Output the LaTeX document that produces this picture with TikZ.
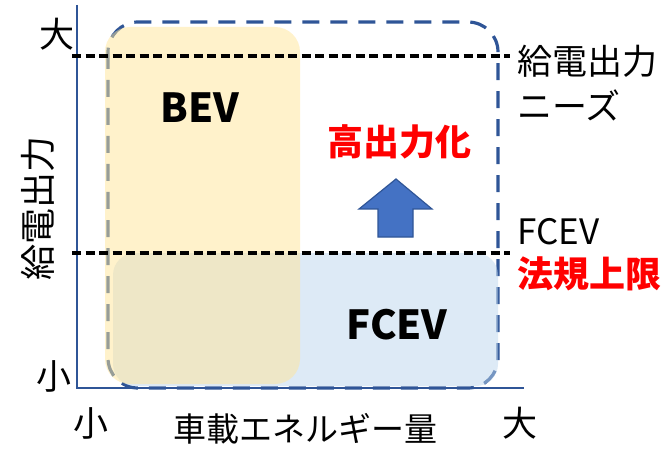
\documentclass[tikz,border=0pt]{standalone}
\usepackage{fontspec}
\setmainfont{Noto Sans CJK JP}
\definecolor{axisblue}{HTML}{2F5597}
\definecolor{boxyellow}{HTML}{FFE699}
\definecolor{boxblue}{HTML}{BDD7EE}
\definecolor{arrowfill}{HTML}{4472C4}
\definecolor{redtxt}{HTML}{FF0000}
\begin{document}
\begin{tikzpicture}[x=1pt,y=-1pt,
  lbl/.style={inner sep=0pt, font=\fontsize{35}{36}\selectfont},
  boldlbl/.style={inner sep=0pt, font=\fontsize{36}{38}\selectfont\bfseries},
  bigbold/.style={inner sep=0pt, font=\fontsize{40}{42}\selectfont\bfseries},
  redlbl/.style={boldlbl, text=redtxt},
  axisline/.style={draw=axisblue, line width=2.8pt},
  regionbox/.style={draw=axisblue, line width=3.2pt, dash pattern=on 17pt off 11pt, rounded corners=30pt},
  levelline/.style={draw=black, line width=3.4pt, dash pattern=on 9pt off 4.5pt},
  upblock/.style={fill=arrowfill, draw=axisblue, line width=1.2pt, line join=miter}]
\useasboundingbox (0,0) rectangle (669,449);
\fill[white] (0,0) rectangle (669,449);

% axes
\coordinate (ytop) at (77,5);
\coordinate (origin) at (77,388);
\coordinate (xend) at (524,388);
\draw[axisline] (ytop) -- (origin) -- (xend);

% dashed region
\draw[regionbox] (108,22) rectangle (498,388);

% FCEV region and BEV region
\fill[boxblue, fill opacity=0.5, rounded corners=22pt] (113,253) rectangle (498,386);
\fill[boxyellow, fill opacity=0.5, rounded corners=25pt] (105,27) rectangle (300,384);

% level lines
\coordinate (l1a) at (72,56);
\coordinate (l1b) at (510,56);
\coordinate (l2a) at (72,253);
\coordinate (l2b) at (510,253);
\draw[levelline] (l1a) -- (l1b);
\draw[levelline] (l2a) -- (l2b);

% up arrow
\draw[upblock] (396,179) -- (432,209) -- (413,209) -- (413,237) -- (378,237) -- (378,209) -- (359,209) -- cycle;

% labels
\node[lbl] (ybig) at (57,34) {大};
\node[lbl] (ysmall) at (54,376) {小};
\node[lbl] (xsmall) at (91,423) {小};
\node[lbl] (xbig) at (520,423) {大};
\node[lbl, font=\fontsize{33}{34}\selectfont] (xlabel) at (305,429) {車載エネルギー量};
\node[lbl, font=\fontsize{36}{37}\selectfont, rotate=90] (ylabel) at (38,208) {給電出力};
\node[bigbold] (bev) at (200,108) {BEV};
\node[bigbold] (fcev) at (397,325) {FCEV};
\node[redlbl] (koshutsu) at (399,142) {高出力化};
\node[lbl, anchor=west] (needs1) at (517,61) {給電出力};
\node[lbl, anchor=west] (needs2) at (517,105) {ニーズ};
\node[lbl, anchor=west] (fcevr) at (517,232) {FCEV};
\node[redlbl, anchor=west] (hoki) at (517,274) {法規上限};
\end{tikzpicture}
\end{document}
